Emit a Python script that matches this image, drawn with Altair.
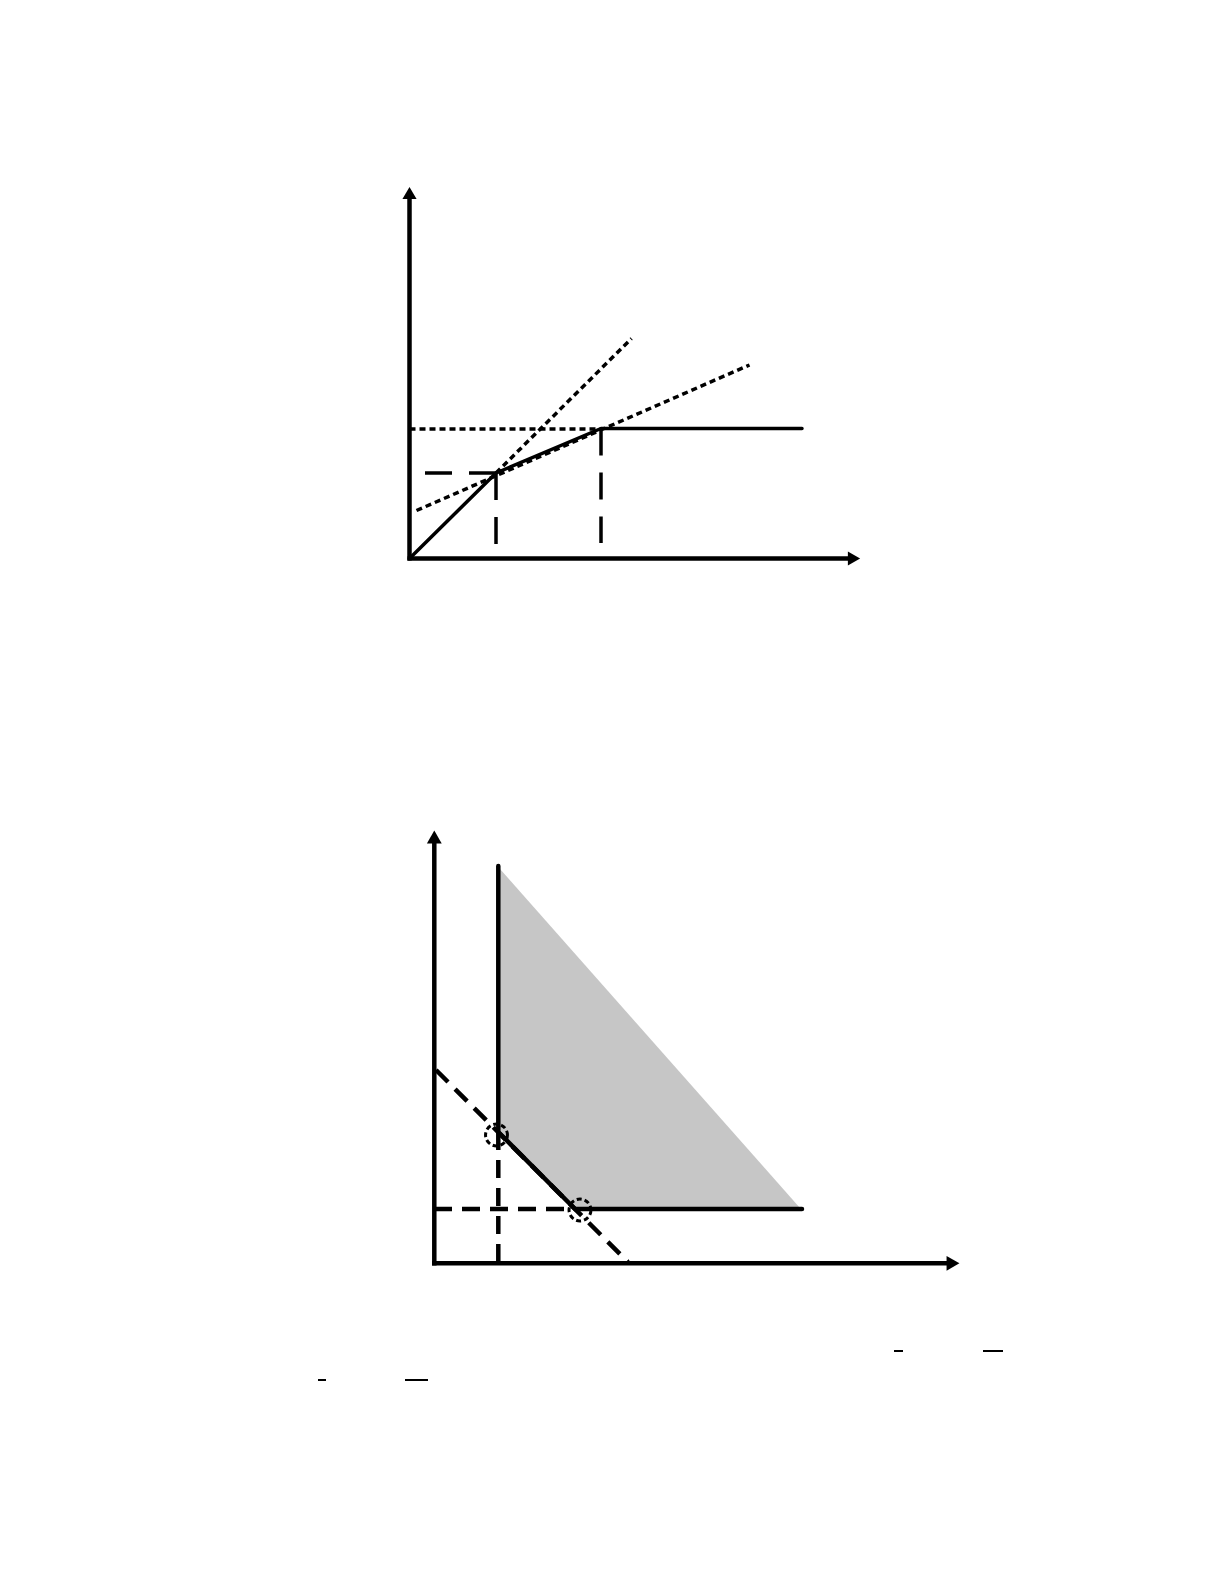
import altair as alt
import pandas as pd

# Everything is in page pixels (y grows downward).
PAGE_W = 1209
PAGE_H = 1569

# ---- upper figure ----
TOP_AXES = [
    (409.5, 560.5, 409.5, 195.0),
    (407.5, 558.5, 853.0, 558.5),
]
TOP_ARROWS = [
    (409.5, 193.0, "triangle-up"),
    (854.0, 558.5, "triangle-right"),
]
TOP_CURVE_X = [409.5, 496.0, 601.0, 802.0]
TOP_CURVE_Y = [558.5, 473.0, 428.5, 428.5]
TOP_DASHED = [
    (425.0, 473.0, 496.0, 473.0),
    (496.0, 473.0, 496.0, 544.0),
    (601.0, 428.5, 601.0, 543.0),
]
TOP_DOTTED = [
    (409.5, 429.0, 601.0, 429.0),
    (496.0, 473.0, 631.5, 338.5),
    (416.5, 510.5, 749.5, 365.0),
]

# ---- lower figure ----
BOT_AXES = [
    (434.3, 1265.5, 434.3, 840.0),
    (432.0, 1263.3, 952.0, 1263.3),
]
BOT_ARROWS = [
    (434.3, 837.0, "triangle-up"),
    (953.0, 1263.3, "triangle-right"),
]
SHADE_X = [500.0, 800.0]
SHADE_TOP = [869.0, 1208.0]
SHADE_BOTTOM = [1208.0, 1208.0]
GAP_X = [500.0, 576.0]
GAP_TOP = [1133.0, 1208.0]
GAP_BOTTOM = [1208.0, 1208.0]
BOT_CURVE_X = [498.3, 498.3, 575.0, 802.0]
BOT_CURVE_Y = [866.0, 1132.0, 1209.0, 1209.0]
BOT_DIAGONAL = [(436.0, 1070.0, 628.0, 1262.0)]
BOT_DASHED = [
    (498.3, 1132.0, 498.3, 1262.0),
    (434.0, 1209.0, 575.0, 1209.0),
]
KINK_X = [496.5, 580.0]
KINK_Y = [1135.0, 1210.0]

# overbars left from the caption text
BARS = [
    (894.0, 1351.0, 903.0, 1351.0),
    (983.0, 1351.0, 1003.0, 1351.0),
    (318.0, 1380.0, 326.0, 1380.0),
    (405.0, 1380.0, 428.0, 1380.0),
]


def x_enc(field="x"):
    return alt.X(
        f"{field}:Q",
        scale=alt.Scale(domain=[8, 8 + PAGE_W], nice=False, zero=False),
        axis=None,
    )


def y_enc(field="y"):
    return alt.Y(
        f"{field}:Q",
        scale=alt.Scale(domain=[8, 8 + PAGE_H], nice=False, zero=False, reverse=True),
        axis=None,
    )


def segments(rows, width, dash=None):
    df = pd.DataFrame(rows, columns=["x", "y", "x2", "y2"])
    mark = dict(color="black", strokeWidth=width)
    if dash:
        mark["strokeDash"] = dash
    return (
        alt.Chart(df)
        .mark_rule(**mark)
        .encode(x=x_enc(), y=y_enc(), x2="x2:Q", y2="y2:Q")
    )


def polyline(xs, ys, width):
    df = pd.DataFrame({"x": xs, "y": ys, "i": range(len(xs))})
    return (
        alt.Chart(df)
        .mark_line(color="black", strokeWidth=width, strokeJoin="round", strokeCap="round")
        .encode(x=x_enc(), y=y_enc(), order="i:O")
    )


def arrows(rows, size):
    df = pd.DataFrame(rows, columns=["x", "y", "shape"])
    return (
        alt.Chart(df)
        .mark_point(filled=True, color="black", opacity=1, size=size)
        .encode(x=x_enc(), y=y_enc(), shape=alt.Shape("shape:N", scale=None))
    )


def band(xs, top, bottom, color):
    df = pd.DataFrame({"x": xs, "y": top, "y2": bottom})
    return (
        alt.Chart(df)
        .mark_area(color=color, opacity=1)
        .encode(x=x_enc(), y=y_enc(), y2="y2:Q")
    )


def main() -> None:
    kinks = pd.DataFrame({"x": KINK_X, "y": KINK_Y})
    circles = (
        alt.Chart(kinks)
        .mark_point(
            shape="circle",
            filled=False,
            stroke="black",
            strokeWidth=3,
            strokeDash=[5, 3],
            size=480,
            opacity=1,
        )
        .encode(x=x_enc(), y=y_enc())
    )

    chart = alt.layer(
        # upper figure
        segments(TOP_DASHED, 3.5, [27, 17]),
        polyline(TOP_CURVE_X, TOP_CURVE_Y, 3.5),
        segments(TOP_DOTTED, 3.5, [6, 4]),
        segments(TOP_AXES, 4.5),
        arrows(TOP_ARROWS, 200),
        # lower figure
        band(SHADE_X, SHADE_TOP, SHADE_BOTTOM, "#c6c6c6"),
        band(GAP_X, GAP_TOP, GAP_BOTTOM, "white"),
        segments(BOT_DIAGONAL, 4.5, [17, 10]),
        segments(BOT_DASHED, 4.5, [18, 10]),
        polyline(BOT_CURVE_X, BOT_CURVE_Y, 4.5),
        segments(BOT_AXES, 4.5),
        arrows(BOT_ARROWS, 220),
        circles,
        segments(BARS, 2),
    ).properties(width=PAGE_W, height=PAGE_H, padding=0, autosize="none")

    chart = chart.configure_view(stroke=None)
    chart.save("out.html", embed_options={"renderer": "svg", "actions": False})


if __name__ == "__main__":
    main()
